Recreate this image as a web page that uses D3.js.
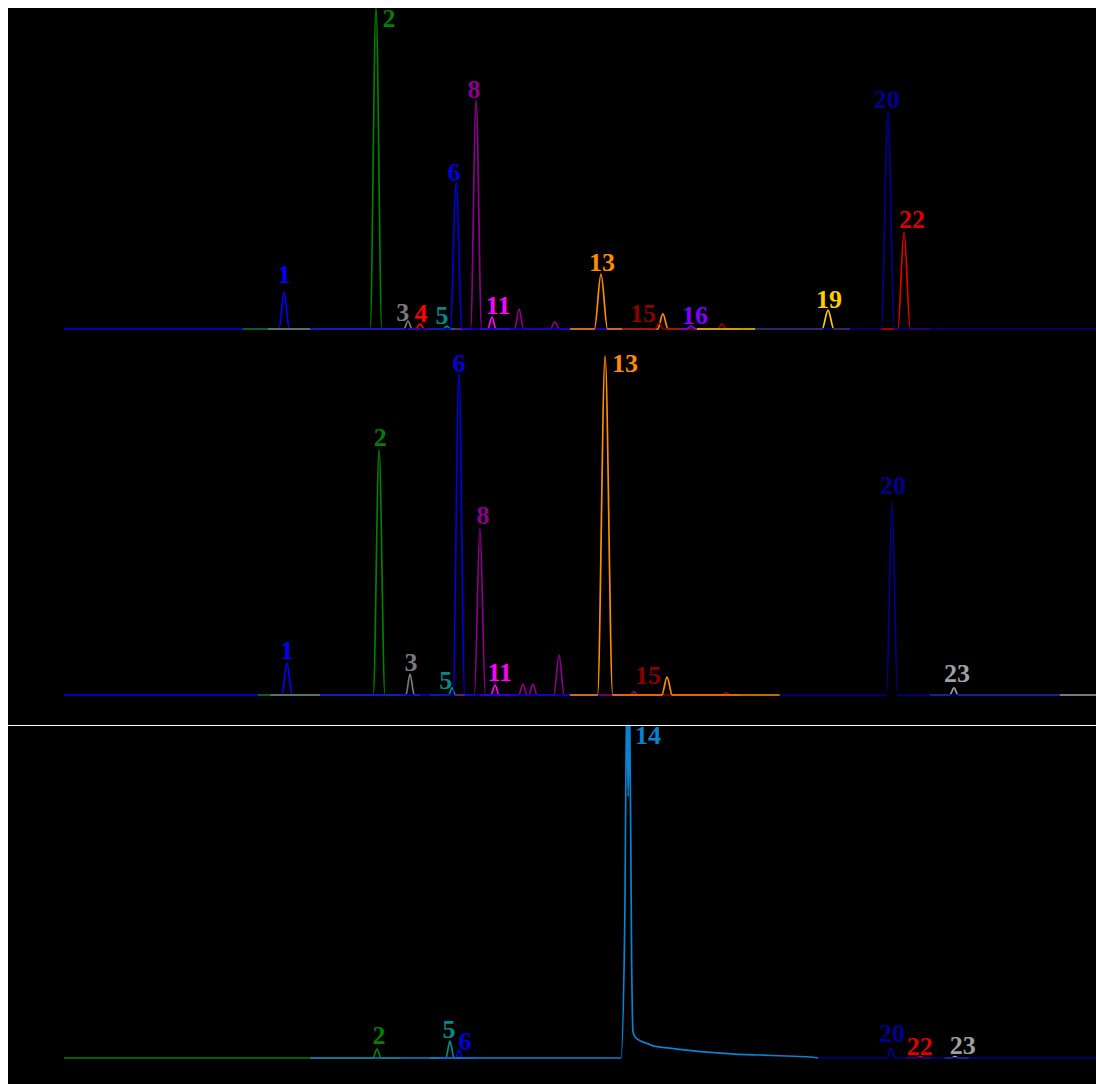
<!DOCTYPE html>
<html>
<head>
<meta charset="utf-8">
<script src="https://cdn.jsdelivr.net/npm/d3@7"></script>
<style>
  body { margin: 0; background: #fff; }
  svg { display: block; }
  .lbl { font-family: "Liberation Serif", "Times New Roman", serif; font-weight: bold; font-size: 26px; }
</style>
</head>
<body>
<div id="chart"></div>
<script>
// retention time axis (min) shared by all three chromatograms
const timeDomain = [0, 30];

// compound number -> trace colour
const compounds = ["1", "2", "3", "4", "5", "6", "8", "11", "13", "14", "15", "16", "19", "20", "22", "23"];
const compoundColors = ["#0000ff", "#008000", "#7a7a7a", "#ff0000", "#008b8b", "#0000d8", "#8b008b", "#ff00ff",
  "#ff8c00", "#0a82d0", "#8b0000", "#7f00ff", "#ffcc00", "#000090", "#dd0000", "#a0a0a0"];

// peaks: [compound, time, height %, half width]
const peaksTop = [
  ["1", 6.40, 11.5, 0.15], ["2", 9.07, 100, 0.17], ["3", 10.00, 2.5, 0.12], ["4", 10.35, 1.6, 0.12],
  ["5", 11.13, 0.9, 0.10], ["6", 11.40, 45.5, 0.17], ["8", 11.98, 71.3, 0.16], ["11", 12.44, 3.7, 0.12],
  ["8", 13.23, 6.2, 0.13], ["8", 14.27, 2.2, 0.13], ["13", 15.61, 17.1, 0.19], ["15", 17.30, 1.9, 0.12],
  ["13", 17.41, 4.7, 0.15], ["16", 18.23, 0.9, 0.14], ["15", 19.13, 1.6, 0.12], ["19", 22.21, 5.9, 0.17],
  ["20", 23.95, 67.9, 0.19], ["22", 24.42, 30.2, 0.18]
];
const peaksMid = [
  ["1", 6.48, 9.4, 0.15], ["2", 9.16, 72.3, 0.17], ["3", 10.06, 6.2, 0.12], ["5", 11.28, 2.1, 0.10],
  ["6", 11.48, 95.0, 0.17], ["8", 12.09, 49.3, 0.16], ["11", 12.53, 2.9, 0.12], ["8", 13.34, 3.2, 0.12],
  ["8", 13.63, 3.2, 0.12], ["8", 14.39, 11.8, 0.15], ["13", 15.73, 100, 0.22], ["8", 16.57, 0.9, 0.12],
  ["13", 17.53, 5.3, 0.15], ["15", 19.24, 0.6, 0.12], ["20", 24.07, 56.9, 0.16], ["23", 25.87, 2.1, 0.12]
];
const peaksBottom = [
  ["2", 9.10, 2.7, 0.12], ["5", 11.22, 5.1, 0.12], ["6", 11.48, 2.4, 0.10],
  ["20", 24.04, 3.0, 0.12], ["22", 24.90, 0.4, 0.10], ["23", 25.90, 0.4, 0.10]
];
// compound 14 (bottom run) is read point by point: sharp split apex and long tail
const profile14 = [[16.19, 0], [16.30, 40], [16.36, 110], [16.40, 79], [16.44, 110], [16.50, 30],
  [16.54, 7.9], [16.60, 6.4], [16.66, 5.8], [17.00, 4.2], [17.15, 3.6], [17.60, 3.0], [18.69, 1.8],
  [19.50, 1.2], [20.20, 0.9], [21.00, 0.6], [21.69, 0.3]];

// traces: [compound, window start, window end] in drawing order
const tracesTop = [
  ["1", 0, 6.86], ["2", 5.20, 9.77], ["3", 5.93, 10.35], ["4", 10.0, 10.79], ["5", 10.64, 11.80],
  ["8", 11.37, 16.74], ["11", 12.09, 12.97], ["6", 7.15, 16.22], ["13", 14.71, 17.91], ["15", 16.22, 19.65],
  ["16", 17.91, 18.49], ["19", 18.40, 22.85], ["22", 23.72, 25.17], ["20", 20.09, 30]
];
const tracesMid = [
  ["1", 0, 6.86], ["2", 5.64, 9.77], ["3", 6.0, 10.35], ["5", 10.64, 11.80], ["8", 11.37, 16.74],
  ["11", 12.09, 12.97], ["6", 7.44, 15.58], ["15", 16.22, 19.65], ["13", 14.71, 20.81],
  ["23", 25.17, 30], ["20", 20.81, 28.95]
];
const tracesBottom = [
  ["2", 0, 9.77], ["5", 10.64, 11.80], ["6", 10.9, 12.0], ["22", 24.5, 25.2], ["23", 25.6, 26.3],
  ["14", 7.15, 21.92], ["20", 21.92, 30]
];

// peak labels: [text, time, level %]
const labelsTop = [
  ["1", 6.40, 17.1], ["2", 9.45, 96.9], ["3", 9.85, 5.3], ["4", 10.38, 5.0], ["5", 10.99, 4.4],
  ["6", 11.34, 48.9], ["8", 11.92, 74.8], ["11", 12.62, 7.5], ["13", 15.64, 20.9], ["15", 16.83, 5.0],
  ["16", 18.34, 4.4], ["19", 22.24, 9.4], ["20", 23.92, 71.7], ["22", 24.65, 34.3]
];
const labelsMid = [
  ["1", 6.48, 13.3], ["2", 9.19, 76.1], ["3", 10.09, 9.7], ["5", 11.10, 4.4], ["6", 11.48, 97.9],
  ["8", 12.18, 53.1], ["11", 12.67, 6.8], ["13", 16.31, 97.9], ["15", 16.98, 5.9], ["20", 24.10, 61.9],
  ["23", 25.96, 6.5]
];
const labelsBottom = [
  ["2", 9.16, 6.9], ["5", 11.19, 8.8], ["6", 11.66, 5.1], ["14", 16.98, 97.6],
  ["20", 24.07, 7.6], ["22", 24.88, 3.6], ["23", 26.13, 3.9]
];

const W = 1096, H = 1084;
const color = d3.scaleOrdinal().domain(compounds).range(compoundColors);
const x = d3.scaleLinear().domain(timeDomain).range([64, 1096]);

const panels = [
  {peaks: peaksTop, traces: tracesTop, labels: labelsTop, y: d3.scaleLinear().domain([0, 100]).range([329, 8]), clip: [8, 340]},
  {peaks: peaksMid, traces: tracesMid, labels: labelsMid, y: d3.scaleLinear().domain([0, 100]).range([695, 356]), clip: [340, 725]},
  {peaks: peaksBottom, traces: tracesBottom, labels: labelsBottom, y: d3.scaleLinear().domain([0, 100]).range([1058, 727]), clip: [726, 1084], profile: profile14}
];

const svg = d3.select("#chart").append("svg")
  .attr("width", W)
  .attr("height", H);

svg.append("rect").attr("width", W).attr("height", H).attr("fill", "#fff");
svg.append("rect").attr("x", 8).attr("y", 8).attr("width", W - 8).attr("height", 717).attr("fill", "#000");
svg.append("rect").attr("x", 8).attr("y", 726).attr("width", W - 8).attr("height", H - 726).attr("fill", "#000");

panels.forEach(function(p, i) {
  const clipId = "clip" + i;
  svg.append("clipPath").attr("id", clipId)
    .append("rect").attr("x", 8).attr("y", p.clip[0]).attr("width", W - 8).attr("height", p.clip[1] - p.clip[0]);

  const line = d3.line()
    .x(d => x(d[0]))
    .y(d => p.y(d[1]))
    .curve(d3.curveMonotoneX);

  const g = svg.append("g").attr("clip-path", "url(#" + clipId + ")");

  p.traces.forEach(function(tr) {
    const id = tr[0], t0 = tr[1], t1 = tr[2];
    let pts = [[t0, 0]];
    if (p.profile && id === "14") {
      pts = pts.concat(p.profile.filter(d => d[0] > t0 && d[0] < t1));
    } else {
      p.peaks.filter(d => d[0] === id && d[1] > t0 && d[1] < t1)
        .sort((a, b) => a[1] - b[1])
        .forEach(function(pk) {
          pts.push([pk[1] - pk[3], 0], [pk[1], pk[2]], [pk[1] + pk[3], 0]);
        });
    }
    pts.push([t1, 0]);
    g.append("path")
      .datum(pts)
      .attr("d", line)
      .attr("fill", "none")
      .attr("stroke", color(id))
      .attr("stroke-width", 1.7);
  });

  svg.selectAll(".lbl" + i)
    .data(p.labels)
    .enter()
    .append("text")
    .attr("class", "lbl lbl" + i)
    .attr("x", d => x(d[1]))
    .attr("y", d => p.y(d[2]))
    .attr("dy", "0.35em")
    .attr("text-anchor", "middle")
    .attr("fill", d => color(d[0]))
    .text(d => d[0]);
});

svg.append("line")
  .attr("x1", 8).attr("x2", W)
  .attr("y1", 725.5).attr("y2", 725.5)
  .attr("stroke", "#fff")
  .attr("stroke-width", 1);
</script>
</body>
</html>
